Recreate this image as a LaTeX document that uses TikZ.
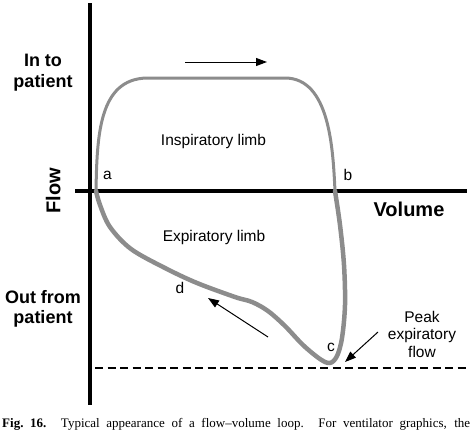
\documentclass[tikz,border=0pt]{standalone}
\usepackage{fontspec}
\setmainfont{Liberation Sans}
\newfontfamily\capfont[Ligatures=TeX]{Liberation Serif}
\usetikzlibrary{arrows.meta}
\definecolor{loopgray}{RGB}{140,140,140}

\begin{document}
\begin{tikzpicture}[x=1pt,y=-1pt,
    axis/.style={line width=4pt},
    limb/.style={loopgray,line cap=round,line join=round},
    flowarrow/.style={line width=1pt,-{Triangle[length=11pt,width=8pt]}},
    axislabel/.style={font=\fontsize{18}{20.6}\selectfont\bfseries,align=center},
    axisname/.style={font=\fontsize{20}{24}\selectfont\bfseries},
    tag/.style={font=\fontsize{15.5}{17.8}\selectfont,align=center}]
    \useasboundingbox (0,0) rectangle (474,431);
    \clip (0,0) rectangle (474,431);

    % axes
    \draw[axis] (90,3) -- (90,405);
    \draw[axis] (75,191) -- (467,191);
    \draw[line width=2pt,dash pattern=on 8pt off 4.5pt] (95,367.7) -- (468,367.7);

    % the loop
    \draw[limb,line width=3pt] (96,191) .. controls (97,135) and (99,79) .. (147,78)
      -- (285,78) .. controls (330,78) and (333,150) .. (335,191);
    \draw[limb,line width=4.5pt] plot[smooth,tension=0.55] coordinates {
      (335,191) (340,225) (344,265) (345,305) (342,338) (337,356) (330,363)
      (320,359) (303,345) (285,326) (268,311) (252,302) (235,297) (197,283)
      (165,268) (131,249) (110,227) (100,205) (96,191)};

    \node[axislabel] (into) at (43,72.4) {In to\\patient};
    \node[axislabel] (outfrom) at (43,309) {Out from\\patient};
    \node[axisname,rotate=90] (flow) at (53.3,190.6) {Flow};
    \node[axisname] (volume) at (409,209.5) {Volume};

    \node[tag] (insp) at (213.5,141) {Inspiratory limb};
    \node[tag] (expir) at (214,237.7) {Expiratory limb};
    \node[tag] (a) at (107.5,175.5) {a};
    \node[tag] (b) at (348,175) {b};
    \node[tag] (c) at (331,347) {c};
    \node[tag] (d) at (180,288) {d};
    \node[tag] (peak) at (422,334.4) {Peak\\expiratory\\flow};

    % direction arrows
    \coordinate (inTail) at (185,62);
    \coordinate (inTip) at (267,62);
    \draw[flowarrow] (inTail) -- (inTip);
    \coordinate (exTail) at (268,337);
    \coordinate (exTip) at (208,298);
    \draw[flowarrow] (exTail) -- (exTip);
    \coordinate (peakTail) at (378,332);
    \coordinate (peakTip) at (345,362);
    \draw[flowarrow] (peakTail) -- (peakTip);

    \node[anchor=base west,inner sep=0pt,font=\capfont\fontsize{13}{15}\selectfont] (caption) at (2,427.5)
      {\makebox[468pt][s]{\textbf{Fig.~16.} Typical appearance of a flow\textendash volume loop. For ventilator graphics, the}};
\end{tikzpicture}
\end{document}
